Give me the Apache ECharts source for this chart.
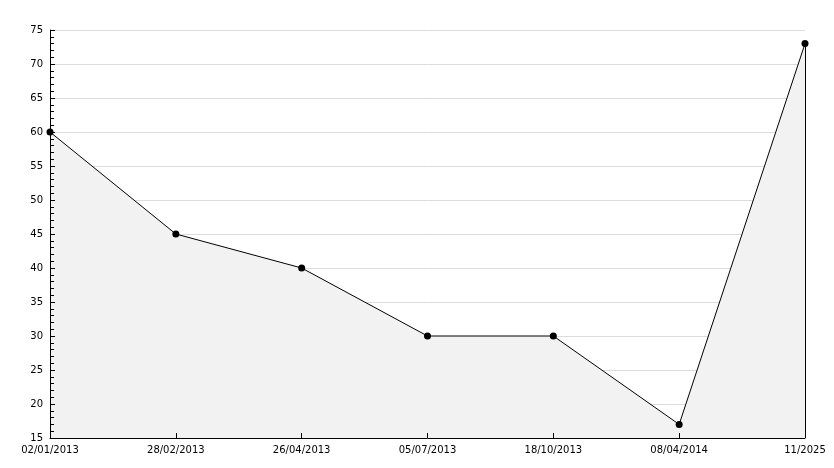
<!DOCTYPE html>
<html>
<head>
<meta charset="utf-8">
<script src="https://cdn.jsdelivr.net/npm/echarts@6/dist/echarts.min.js"></script>
<style>html,body{margin:0;padding:0;background:#fff}#c{width:834px;height:468px}</style>
</head>
<body>
<div id="c"></div>
<script>
const categories = ['02/01/2013','28/02/2013','26/04/2013','05/07/2013','18/10/2013','08/04/2014','11/2025'];
const values = [60, 45, 40, 30, 30, 17, 73];
const yMin = 15, yMax = 75, yStep = 5;

const chart = echarts.init(document.getElementById('c'), null, {renderer: 'canvas'});
const font = 'DejaVu Sans';
chart.setOption({
  animation: false,
  backgroundColor: '#ffffff',
  grid: {left: 50, right: 29, top: 30, bottom: 30},
  xAxis: {
    type: 'category',
    data: categories,
    boundaryGap: false,
    zlevel: 2,
    axisLine: {lineStyle: {color: '#000', width: 1}},
    axisTick: {inside: true, length: 5, lineStyle: {color: '#000'}},
    axisLabel: {color: '#000', fontFamily: font, fontSize: 10, margin: 7},
    splitLine: {show: false}
  },
  yAxis: [{
    type: 'value',
    min: yMin, max: yMax, interval: yStep,
    zlevel: 0,
    position: 'left',
    axisLine: {show: false},
    axisTick: {show: false},
    axisLabel: {show: false},
    splitLine: {show: true, lineStyle: {color: '#dcdcdc', width: 1}}
  }, {
    type: 'value',
    min: yMin, max: yMax, interval: yStep,
    zlevel: 2,
    position: 'left',
    offset: 0,
    axisLine: {show: true, lineStyle: {color: '#000', width: 1}},
    axisTick: {show: true, inside: true, length: 5, lineStyle: {color: '#000'}},
    minorTick: {show: true, splitNumber: 5, length: 4, lineStyle: {color: '#000'}},
    axisLabel: {color: '#000', fontFamily: font, fontSize: 10, margin: 7},
    splitLine: {show: false}
  }],
  series: [{
    type: 'line',
    yAxisIndex: 0,
    zlevel: 1,
    data: values,
    symbol: 'circle',
    symbolSize: 7,
    itemStyle: {color: '#000'},
    lineStyle: {color: '#000', width: 1},
    areaStyle: {color: '#f2f2f2', opacity: 1},
    markLine: {
      silent: true,
      symbol: ['none', 'none'],
      label: {show: false},
      lineStyle: {color: '#000', width: 1, type: 'solid'},
      data: [[
        {coord: [categories[categories.length - 1], yMin]},
        {coord: [categories[categories.length - 1], values[values.length - 1]]}
      ]]
    }
  }]
});
</script>
</body>
</html>
